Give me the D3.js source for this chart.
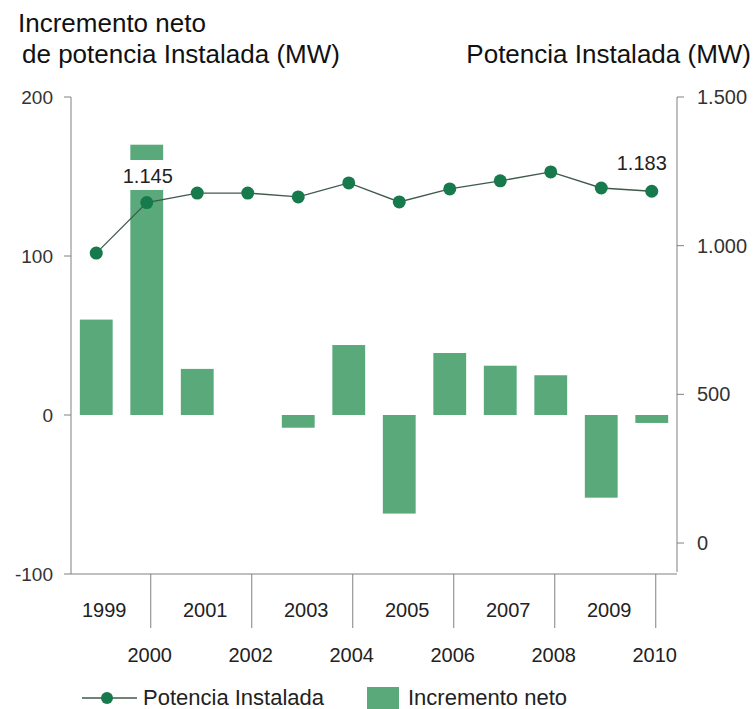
<!DOCTYPE html>
<html>
<head>
<meta charset="utf-8">
<script src="https://cdn.jsdelivr.net/npm/d3@7"></script>
<style>
  body { margin: 0; background: #fff; }
  svg { font-family: "Liberation Sans", Arial, sans-serif; }
</style>
</head>
<body>
<div id="chart"></div>
<script>
// Data
var years = [1999, 2000, 2001, 2002, 2003, 2004, 2005, 2006, 2007, 2008, 2009, 2010];
var increment = [60, 170, 29, 0, -8, 44, -62, 39, 31, 25, -52, -5];
var installed = [975, 1145, 1177, 1177, 1164, 1211, 1147, 1191, 1218, 1248, 1194, 1183];
var leftTicks = [-100, 0, 100, 200];
var rightTicks = [0, 500, 1000, 1500];
var labelled = [1, 11]; // indexes with value labels

var width = 756, height = 709;
var x0 = 71, x1 = 677;
var axisColor = '#808080', barColor = '#5aa97b', dotColor = '#177a4c';

var svg = d3.select('#chart').append('svg')
    .attr('width', width)
    .attr('height', height);

// Scales
var x = d3.scaleBand().domain(years).range([x0, x1]).paddingInner(0.35).paddingOuter(0.175);
var yL = d3.scaleLinear().domain([-100, 200]).range([574, 97]);
var yR = d3.scaleLinear().domain([0, 1500]).range([543, 97]);

var fmt = function (v) { return d3.format(',')(v).replace(/,/g, '.'); };
var cx = function (i) { return x(years[i]) + x.bandwidth() / 2; };

// Bars
var barLayer = svg.append('g');
barLayer.selectAll('rect')
    .data(increment)
    .enter().append('rect')
    .attr('x', function (d, i) { return x(years[i]); })
    .attr('width', x.bandwidth())
    .attr('y', function (d) { return yL(Math.max(0, d)); })
    .attr('height', function (d) { return Math.abs(yL(d) - yL(0)); })
    .attr('fill', barColor);

// Left axis
var gl = svg.append('g');
gl.append('line').attr('x1', x0).attr('x2', x0).attr('y1', yL(200)).attr('y2', yL(-100))
    .attr('stroke', axisColor);
leftTicks.forEach(function (t) {
  gl.append('line').attr('x1', x0 - 7).attr('x2', x0).attr('y1', yL(t)).attr('y2', yL(t))
      .attr('stroke', axisColor);
  gl.append('text').attr('x', 53).attr('y', yL(t) + 7).attr('text-anchor', 'end')
      .attr('font-size', 19).attr('fill', '#333').text(t);
});

// Right axis
var gr = svg.append('g');
gr.append('line').attr('x1', x1).attr('x2', x1).attr('y1', yR(1500)).attr('y2', yL(-100) - 2)
    .attr('stroke', axisColor);
rightTicks.forEach(function (t) {
  gr.append('line').attr('x1', x1).attr('x2', x1 + 7).attr('y1', yR(t)).attr('y2', yR(t))
      .attr('stroke', axisColor);
  gr.append('text').attr('x', 697).attr('y', yR(t) + 7)
      .attr('font-size', 20).attr('fill', '#333').text(fmt(t));
});

// Bottom axis with staggered year labels
var gb = svg.append('g');
gb.append('line').attr('x1', x0).attr('x2', x1).attr('y1', yL(-100)).attr('y2', yL(-100))
    .attr('stroke', axisColor);
years.forEach(function (yr, i) {
  if (i % 2 === 1) {
    gb.append('line').attr('x1', cx(i) + 4).attr('x2', cx(i) + 4).attr('y1', yL(-100)).attr('y2', 628)
        .attr('stroke', axisColor);
    gb.append('text').attr('x', cx(i) + 3).attr('y', 662).attr('text-anchor', 'middle')
        .attr('font-size', 20).attr('fill', '#222').text(yr);
  } else {
    gb.append('text').attr('x', cx(i) + 8).attr('y', 617).attr('text-anchor', 'middle')
        .attr('font-size', 20).attr('fill', '#222').text(yr);
  }
});

// Line
var line = d3.line()
    .x(function (d, i) { return cx(i); })
    .y(function (d) { return yR(d); });
svg.append('path').datum(installed)
    .attr('d', line).attr('fill', 'none')
    .attr('stroke', '#3f5a4a').attr('stroke-width', 1.3);
svg.append('g').selectAll('circle')
    .data(installed)
    .enter().append('circle')
    .attr('cx', function (d, i) { return cx(i); })
    .attr('cy', function (d) { return yR(d); })
    .attr('r', 6.5)
    .attr('fill', dotColor);

// Value labels (the 2000 one cuts through its bar)
labelled.forEach(function (i) {
  var lx = i === 1 ? cx(i) + 1 : cx(i) - 10;
  var ly = i === 1 ? 183 : 170;
  var t = svg.append('text').attr('x', lx).attr('y', ly).attr('text-anchor', 'middle')
      .attr('font-size', 20).attr('fill', '#222').text(fmt(installed[i]));
  if (i === 1) {
    barLayer.append('rect')
        .attr('x', x(years[i]) - 2).attr('width', x.bandwidth() + 4)
        .attr('y', 160).attr('height', 30)
        .attr('fill', '#fff');
  }
});

// Titles
svg.append('text').attr('x', 18).attr('y', 32).attr('font-size', 26).attr('fill', '#111')
    .text('Incremento neto');
svg.append('text').attr('x', 22).attr('y', 63).attr('font-size', 26).attr('fill', '#111')
    .text('de potencia Instalada (MW)');
svg.append('text').attr('x', 751).attr('y', 63).attr('text-anchor', 'end')
    .attr('font-size', 26).attr('fill', '#111').text('Potencia Instalada (MW)');

// Legend
var lg = svg.append('g');
lg.append('line').attr('x1', 82).attr('x2', 137).attr('y1', 698).attr('y2', 698)
    .attr('stroke', '#3f5a4a').attr('stroke-width', 1.5);
lg.append('circle').attr('cx', 107).attr('cy', 698).attr('r', 6).attr('fill', dotColor);
lg.append('text').attr('x', 143).attr('y', 705).attr('font-size', 22).attr('fill', '#222')
    .text('Potencia Instalada');
lg.append('rect').attr('x', 367).attr('y', 687).attr('width', 32).attr('height', 24)
    .attr('fill', barColor);
lg.append('text').attr('x', 408).attr('y', 705).attr('font-size', 22).attr('fill', '#222')
    .text('Incremento neto');
</script>
</body>
</html>
